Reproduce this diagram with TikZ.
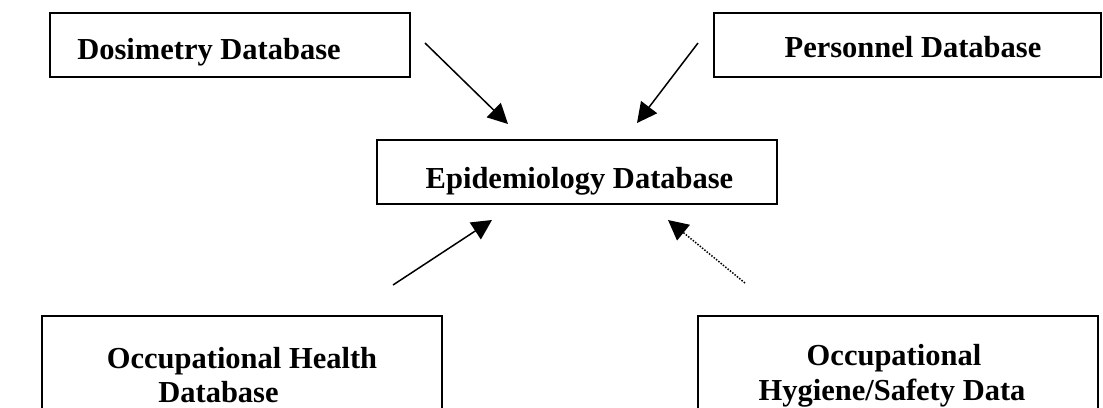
\documentclass[tikz,border=0pt]{standalone}
\usepackage{fontspec}
\setmainfont{Liberation Serif}
\usetikzlibrary{arrows.meta}
\begin{document}
\begin{tikzpicture}[x=1pt,y=-1pt,
  box/.style={draw,line width=1.5pt,inner sep=0pt},
  lbl/.style={font=\fontsize{30.5}{35}\selectfont\bfseries,inner sep=0pt,anchor=base},
  flow/.style={line width=1.5pt,-{Triangle[length=20pt,width=20pt]}},
  dotflow/.style={flow,dash pattern=on 1.5pt off 1.5pt}]
% page frame
\clip (0,0) rectangle (1103,407);
\fill[white] (0,0) rectangle (1103,407);

% database boxes
\node[box,minimum width=360pt,minimum height=64pt] (dos) at (230,45) {};
\node[box,minimum width=387pt,minimum height=64pt] (per) at (907.5,45) {};
\node[box,minimum width=400pt,minimum height=64pt] (epi) at (577,172) {};
\node[box,minimum width=400pt,minimum height=124pt] (ohd) at (242,378) {};
\node[box,minimum width=400pt,minimum height=124pt] (ohs) at (898,378) {};

% box titles
\node[lbl] (dost) at (209,59) {Dosimetry Database};
\node[lbl] (pert) at (913,57) {Personnel Database};
\node[lbl] (epit) at (579.5,188) {Epidemiology Database};
\node[lbl] (ohdt1) at (242,368) {Occupational Health};
\node[lbl] (ohdt2) at (218.5,402) {Database};
\node[lbl] (ohst1) at (894,365) {Occupational};
\node[lbl] (ohst2) at (892,400) {Hygiene/Safety Data};

% arrow end points
\coordinate (a1s) at (425,43);  \coordinate (a1e) at (508,124);
\coordinate (a2s) at (698,43);  \coordinate (a2e) at (637,123);
\coordinate (a3s) at (393,285); \coordinate (a3e) at (492,220);
\coordinate (a4s) at (745,283); \coordinate (a4e) at (668,220);

% data flows into the epidemiology database
\draw[flow] (a1s) -- (a1e);
\draw[flow] (a2s) -- (a2e);
\draw[flow] (a3s) -- (a3e);
\draw[dotflow] (a4s) -- (a4e);
\end{tikzpicture}
\end{document}
